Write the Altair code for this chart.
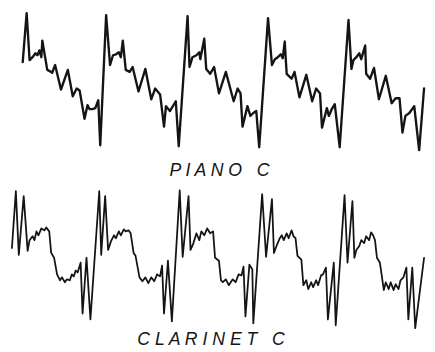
import altair as alt
import pandas as pd

# Piano C waveform: time (arbitrary units) and downward displacement
piano_t = [23, 27, 30, 33, 36, 38, 40, 42, 43, 48, 52, 53, 56, 62, 69, 74, 78, 81, 86, 89, 91, 94, 97, 100, 102, 108,
           112, 115, 118, 121, 123, 125, 128, 132, 135, 141, 148, 154, 158, 163, 167, 169, 173, 179, 182, 191,
           193, 196, 200, 203, 204, 208, 210, 214, 218, 223, 230, 238, 242, 245, 247, 252, 255, 258, 261, 264, 273,
           277, 280, 283, 286, 288, 290, 292, 297, 300, 305, 312, 318, 322, 326, 328, 333, 335, 338, 341, 346, 355,
           358, 360, 363, 366, 368, 372, 373, 377, 381, 386, 393, 399, 403, 407, 410, 413, 417, 422, 427, 432]
piano_v = [60, 10, 58, 55, 51, 53, 48, 55, 38, 68, 70, 71, 63, 88, 68, 95, 87, 89, 118, 104, 108, 108, 107, 99, 145, 12,
           63, 53, 52, 50, 55, 38, 68, 70, 65, 90, 67, 98, 87, 93, 126, 105, 110, 100, 146, 13,
           65, 55, 53, 50, 57, 36, 67, 72, 65, 92, 70, 100, 87, 92, 126, 105, 115, 112, 110, 147, 15,
           63, 57, 55, 52, 56, 39, 72, 77, 70, 96, 73, 100, 87, 92, 127, 107, 115, 108, 103, 147, 17,
           67, 58, 55, 51, 57, 43, 72, 77, 66, 98, 74, 102, 97, 97, 132, 115, 112, 105, 150, 87]

# Clarinet C waveform
clar_t = [12, 16, 19, 24, 28, 30, 33, 35, 37, 39, 42, 45, 47, 50, 52, 55, 58, 61, 63, 66, 68, 71, 73, 75, 77, 79, 82,
          84, 88, 92, 101, 103, 107, 110,
          113, 116, 118, 121, 123, 126, 128, 131, 133, 136, 138, 142, 145, 148, 151, 154, 157, 160, 163, 165, 167,
          171, 175, 183, 186, 192, 194,
          197, 200, 203, 205, 208, 211, 214, 217, 219, 223, 225, 227, 230, 233, 237, 240, 243, 246, 248, 250, 254,
          257, 258, 267, 271, 277, 279,
          282, 285, 287, 289, 292, 294, 297, 299, 301, 303, 307, 309, 312, 314, 317, 319, 322, 324, 327, 329, 332,
          334, 340, 342, 351, 354, 359, 361,
          363, 366, 368, 371, 373, 376, 378, 380, 382, 384, 387, 391, 393, 396, 398, 401, 403, 406, 408, 411, 414,
          416, 420, 423, 432]
clar_v = [250, 192, 257, 197, 253, 242, 238, 242, 233, 237, 230, 232, 229, 233, 255, 260, 277, 283, 280, 285, 282, 283,
          277, 279, 273, 275, 265, 317, 260, 323, 192, 257, 197, 252,
          243, 237, 240, 233, 237, 231, 233, 232, 235, 255, 258, 280, 284, 280, 286, 280, 284, 277, 279, 268, 317,
          263, 325, 191, 259, 197, 252,
          245, 235, 242, 233, 237, 230, 235, 233, 260, 263, 283, 285, 282, 288, 282, 285, 277, 278, 269, 320, 267,
          272, 327, 195, 259, 200, 255,
          247, 240, 237, 242, 235, 240, 232, 238, 240, 258, 262, 288, 283, 292, 285, 290, 283, 288, 278, 277, 270,
          323, 265, 329, 196, 265, 202, 260,
          252, 248, 242, 245, 238, 242, 234, 237, 242, 260, 265, 293, 285, 292, 285, 293, 287, 292, 283, 280, 270,
          323, 270, 332, 260]

labels = ["P I A N O \u00a0 C", "C L A R I N E T \u00a0 C"]

piano = pd.DataFrame({"t": piano_t, "v": piano_v, "i": range(len(piano_t))})
clar = pd.DataFrame({"t": clar_t, "v": clar_v, "i": range(len(clar_t))})

xs = alt.Scale(domain=[8, 435], nice=False, zero=False)
ys = alt.Scale(domain=[8, 352], reverse=True, nice=False, zero=False)

def wave(df, sw):
    return alt.Chart(df).mark_line(color="#141414", strokeWidth=sw, strokeJoin="round", strokeCap="round").encode(
        x=alt.X("t:Q", scale=xs, axis=None),
        y=alt.Y("v:Q", scale=ys, axis=None),
        order="i:Q",
    )

def label(txt, x, y):
    return alt.Chart(pd.DataFrame({"label": [txt]})).mark_text(
        font="Liberation Sans", fontSize=18, fontStyle="italic", align="center",
        baseline="alphabetic", color="#141414"
    ).encode(x=alt.value(x), y=alt.value(y), text="label:N")

chart = alt.layer(
    wave(piano, 2.4),
    wave(clar, 1.8),
    label(labels[0], 215.5, 167.5),
    label(labels[1], 207, 340.5),
).properties(
    width=427, height=344,
    autosize=alt.AutoSizeParams(type="fit", contains="padding"),
    padding=0, background="white",
).configure_view(stroke=None)

chart.save("out.html", embed_options={"renderer": "svg", "actions": False})
